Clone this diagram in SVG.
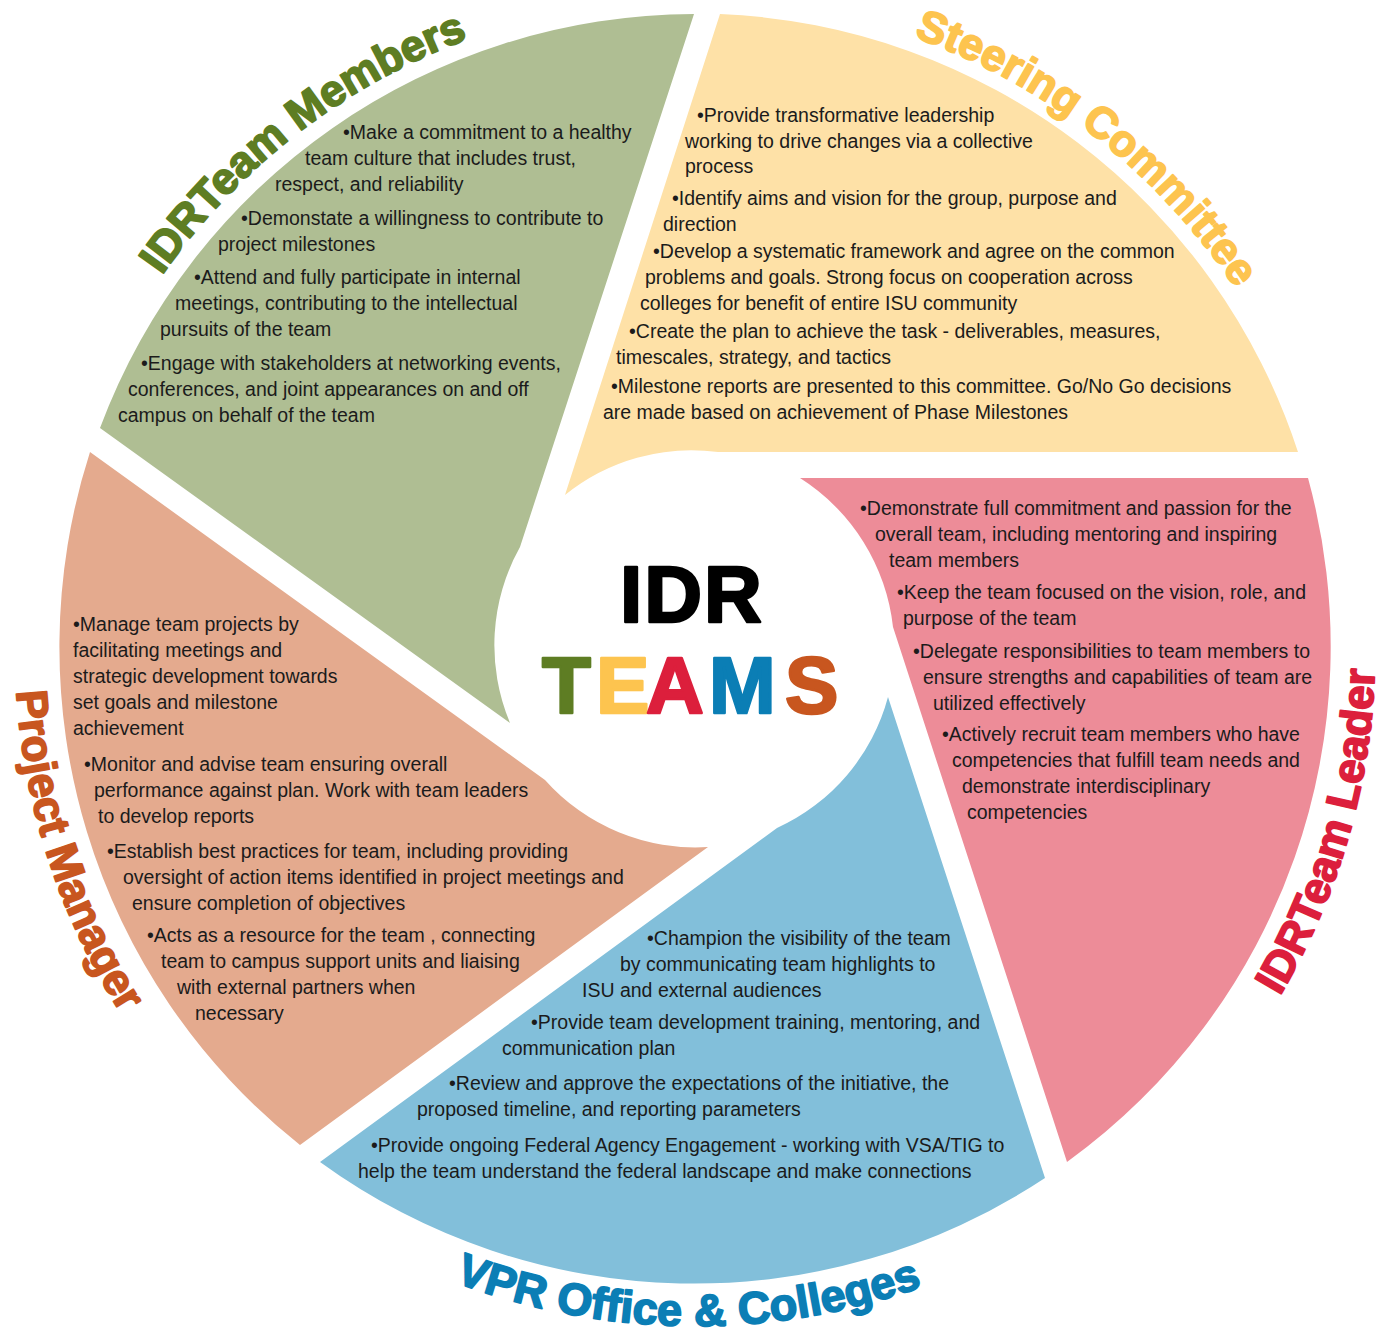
<svg xmlns="http://www.w3.org/2000/svg" width="1390" height="1334" viewBox="0 0 1390 1334">
  <defs>
    <style>
      .body { font-family: "Liberation Sans", Arial, sans-serif; font-size: 19.5px; fill: #1b1b1b; white-space: pre; }
      .label { font-family: "Liberation Sans", Arial, sans-serif; font-weight: bold; font-size: 44px; stroke-width: 1.8; stroke-linejoin: round; }
      .hub { font-family: "Liberation Sans", Arial, sans-serif; font-weight: bold; font-size: 80px; stroke-width: 2.6; stroke-linejoin: round; }
    </style>
    <!-- baselines for the curved titles, all centred on the ring centre (695,649) -->
    <path id="arcMembers" d="M 59,510.3 A 651,651 0 0 1 721.1,-1.5"/>
    <path id="arcSteering" d="M 672.3,-0.6 A 650,650 0 0 1 1330.8,513.9"/>
    <path id="arcLeader" d="M 1073.3,1214.1 A 680,680 0 0 0 1317.2,374.6"/>
    <path id="arcVpr" d="M 254.4,1163 A 677,677 0 0 0 1124.7,1172.1"/>
    <path id="arcPm" d="M 64.5,394.3 A 680,680 0 0 0 334.7,1225.6"/>
  </defs>

  <rect width="1390" height="1334" fill="#ffffff"/>

  <!-- IDR Team Members -->
  <g id="team-members">
    <path d="M 100,428 A 636,636 0 0 1 694,14 L 520,547 A 201,201 0 0 0 510,723 Z" fill="#AFBE93"/>
    <text class="label" fill="#5E7D23" stroke="#5E7D23"><textPath href="#arcMembers" startOffset="50%" text-anchor="middle">IDRTeam Members</textPath></text>
    <g class="body">
      <text x="343" y="139">•Make a commitment to a healthy</text>
      <text x="305" y="165">team culture that includes trust,</text>
      <text x="275" y="191">respect, and reliability</text>
      <text x="241" y="225">•Demonstate a willingness to contribute to</text>
      <text x="218" y="251">project milestones</text>
      <text x="194" y="284">•Attend and fully participate in internal</text>
      <text x="175" y="310">meetings, contributing to the intellectual</text>
      <text x="160" y="336">pursuits of the team</text>
      <text x="141" y="370">•Engage with stakeholders at networking events,</text>
      <text x="128" y="396">conferences, and joint appearances on and off</text>
      <text x="118" y="422">campus on behalf of the team</text>
    </g>
  </g>

  <!-- Steering Committee -->
  <g id="steering-committee">
    <path d="M 720,14 A 636,636 0 0 1 1298,452 L 718,452 A 201,201 0 0 0 565,495 Z" fill="#FEE1A7"/>
    <text class="label" fill="#FDC44F" stroke="#FDC44F"><textPath href="#arcSteering" startOffset="50%" text-anchor="middle">Steering Committee</textPath></text>
    <g class="body">
      <text x="697" y="122">•Provide transformative leadership</text>
      <text x="685" y="148">working to drive changes via a collective</text>
      <text x="685" y="173">process</text>
      <text x="672" y="205">•Identify aims and vision for the group, purpose and</text>
      <text x="663" y="231">direction</text>
      <text x="653" y="258">•Develop a systematic framework and agree on the common</text>
      <text x="645" y="284">problems and goals. Strong focus on cooperation across</text>
      <text x="640" y="310">colleges for benefit of entire ISU community</text>
      <text x="629" y="338">•Create the plan to achieve the task - deliverables, measures,</text>
      <text x="616" y="364">timescales, strategy, and tactics</text>
      <text x="611" y="393">•Milestone reports are presented to this committee. Go/No Go decisions</text>
      <text x="603" y="419">are made based on achievement of Phase Milestones</text>
    </g>
  </g>

  <!-- IDR Team Leader -->
  <g id="team-leader">
    <path d="M 1308,478 A 636,636 0 0 1 1067,1162 L 893,627 A 203,203 0 0 0 800,478 Z" fill="#ED8C98"/>
    <text class="label" fill="#DC1F3C" stroke="#DC1F3C"><textPath href="#arcLeader" startOffset="50%" text-anchor="middle">IDRTeam Leader</textPath></text>
    <g class="body">
      <text x="860" y="515">•Demonstrate full commitment and passion for the</text>
      <text x="875" y="541">overall team, including mentoring and inspiring</text>
      <text x="889" y="567">team members</text>
      <text x="897" y="599">•Keep the team focused on the vision, role, and</text>
      <text x="903" y="625">purpose of the team</text>
      <text x="913" y="658">•Delegate responsibilities to team members to</text>
      <text x="923" y="684">ensure strengths and capabilities of team are</text>
      <text x="933" y="710">utilized effectively</text>
      <text x="942" y="741">•Actively recruit team members who have</text>
      <text x="952" y="767">competencies that fulfill team needs and</text>
      <text x="962" y="793">demonstrate interdisciplinary</text>
      <text x="967" y="819">competencies</text>
    </g>
  </g>

  <!-- VPR Office & Colleges -->
  <g id="vpr-office">
    <path d="M 1045,1178 A 636,636 0 0 1 320,1162 L 777,828 A 201,201 0 0 0 888,697 Z" fill="#82BFDA"/>
    <text class="label" fill="#0B7EB5" stroke="#0B7EB5" style="font-size:45px"><textPath href="#arcVpr" startOffset="50%" text-anchor="middle">VPR Office &amp; Colleges</textPath></text>
    <g class="body">
      <text x="647" y="945">•Champion the visibility of the team</text>
      <text x="620" y="971">by communicating team highlights to</text>
      <text x="582" y="997">ISU and external audiences</text>
      <text x="531" y="1029">•Provide team development training, mentoring, and</text>
      <text x="502" y="1055">communication plan</text>
      <text x="449" y="1090">•Review and approve the expectations of the initiative, the</text>
      <text x="417" y="1116">proposed timeline, and reporting parameters</text>
      <text x="371" y="1152">•Provide ongoing Federal Agency Engagement - working with VSA/TIG to</text>
      <text x="358" y="1178">help the team understand the federal landscape and make connections</text>
    </g>
  </g>

  <!-- Project Manager -->
  <g id="project-manager">
    <path d="M 300,1145 A 636,636 0 0 1 90,452 L 545,780 A 201,201 0 0 0 708,847 Z" fill="#E4AA8E"/>
    <text class="label" fill="#C8561F" stroke="#C8561F"><textPath href="#arcPm" startOffset="50%" text-anchor="middle">Project Manager</textPath></text>
    <g class="body">
      <text x="73" y="631">•Manage team projects by</text>
      <text x="73" y="657">facilitating meetings and</text>
      <text x="73" y="683">strategic development  towards</text>
      <text x="73" y="709">set goals and milestone</text>
      <text x="73" y="735">achievement</text>
      <text x="84" y="771">•Monitor and advise team ensuring overall</text>
      <text x="94" y="797">performance against plan. Work with team leaders</text>
      <text x="98" y="823">to develop reports</text>
      <text x="107" y="858">•Establish best practices for team, including providing</text>
      <text x="123" y="884">oversight of action items identified in project meetings and</text>
      <text x="132" y="910">ensure completion of objectives</text>
      <text x="147" y="942">•Acts  as a resource for the team , connecting</text>
      <text x="161" y="968">team to campus support units  and liaising</text>
      <text x="177" y="994">with external partners when</text>
      <text x="195" y="1020">necessary</text>
    </g>
  </g>

  <!-- hub title -->
  <g id="hub">
    <text class="hub" x="692" y="622" text-anchor="middle" fill="#000000" stroke="#000000" letter-spacing="2">IDR</text>
    <text class="hub" y="713">
      <tspan x="542" fill="#5E7D23" stroke="#5E7D23">T</tspan>
      <tspan x="596" fill="#FDC44F" stroke="#FDC44F">E</tspan>
      <tspan x="646" fill="#DC1F3C" stroke="#DC1F3C">A</tspan>
      <tspan x="709" fill="#0B7EB5" stroke="#0B7EB5">M</tspan>
      <tspan x="785" fill="#C8561F" stroke="#C8561F">S</tspan>
    </text>
  </g>
</svg>
